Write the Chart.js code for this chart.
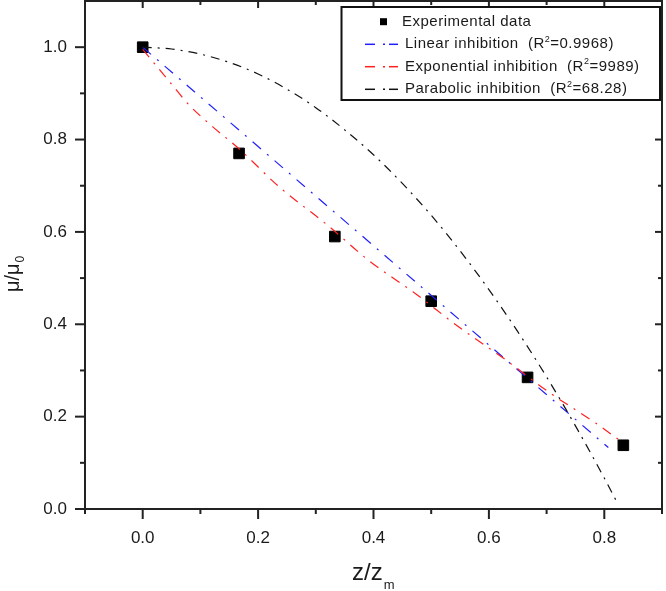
<!DOCTYPE html>
<html>
<head>
<meta charset="utf-8">
<script src="https://cdn.jsdelivr.net/npm/chart.js@4/dist/chart.umd.min.js"></script>
<style>
    html, body { margin: 0; padding: 0; background: #fff; }
    #inhibitionChart { display: block; }
</style>
</head>
<body>
<canvas id="inhibitionChart" width="666" height="591"></canvas>
<script>
// Experimental points (z/zm, mu/mu0)
const zExp = [0, 0.167, 0.333, 0.5, 0.667, 0.833];
const muExp = [1.0, 0.77, 0.59, 0.45, 0.285, 0.138];

// Linear inhibition fit
const zLinear = [0, 0.2, 0.4, 0.6, 0.807];
const muLinear = [1.0, 0.785, 0.570, 0.355, 0.133];

// Exponential inhibition fit
const zExpo = [0, 0.046, 0.081, 0.121, 0.167, 0.237, 0.317, 0.392, 0.473, 0.548, 0.629, 0.704, 0.785, 0.833];
const muExpo = [0.995, 0.926, 0.874, 0.828, 0.780, 0.697, 0.618, 0.538, 0.466, 0.394, 0.323, 0.253, 0.186, 0.143];

// Parabolic inhibition fit
const zParab = [0, 0.05, 0.1, 0.15, 0.2, 0.25, 0.3, 0.35, 0.4, 0.45, 0.5, 0.55, 0.6, 0.65, 0.7, 0.75, 0.8, 0.821];
const muParab = [1.0, 0.996, 0.985, 0.967, 0.942, 0.909, 0.869, 0.821, 0.767, 0.705, 0.636, 0.559, 0.475, 0.384, 0.286, 0.180, 0.067, 0.017];

// Axis ticks
const xTicks = [0, 0.2, 0.4, 0.6, 0.8];
const xMinor = [-0.1, 0.1, 0.3, 0.5, 0.7, 0.9];
const yTicks = [0, 0.2, 0.4, 0.6, 0.8, 1.0];
const yMinor = [0.1, 0.3, 0.5, 0.7, 0.9];

const seriesNames = ["Experimental data", "Linear inhibition", "Exponential inhibition", "Parabolic inhibition"];
const r2Values = ["", "0.9968", "9989", "68.28"];
const seriesColors = ["#000000", "#1f1fff", "#ff2020", "#111111"];

const FONT = "'Liberation Sans', Arial, sans-serif";
const INK = "#1a1a1a";

const toPoints = (xs, ys) => xs.map((x, i) => ({ x: x, y: ys[i] }));

// no automatic label overflow padding, the frame is placed by hand
const noPadding = scale => {
    scale.paddingTop = 0;
    scale.paddingBottom = 0;
    scale.paddingLeft = 0;
    scale.paddingRight = 0;
};

document.addEventListener("DOMContentLoaded", () => {
    const ctx = document.getElementById("inhibitionChart")?.getContext("2d");
    if (!ctx) return;

    // frame, tick marks, legend box and axis titles
    const decorations = {
        id: "decorations",
        afterDatasetsDraw(chart) {
            const { ctx, chartArea: a, scales: { x, y } } = chart;
            ctx.save();

            // frame
            ctx.strokeStyle = "#222";
            ctx.lineWidth = 2;
            ctx.setLineDash([]);
            ctx.strokeRect(a.left, a.top, a.right - a.left, a.bottom - a.top);

            // tick marks
            const tick = (x1, y1, x2, y2) => {
                ctx.beginPath();
                ctx.moveTo(x1, y1);
                ctx.lineTo(x2, y2);
                ctx.stroke();
            };
            xTicks.forEach(v => {
                const px = x.getPixelForValue(v);
                tick(px, a.bottom, px, a.bottom + 10);
                tick(px, a.top, px, a.top + 7);
            });
            xMinor.forEach(v => {
                const px = x.getPixelForValue(v);
                tick(px, a.bottom, px, a.bottom + 5);
                tick(px, a.top, px, a.top + 4);
            });
            yTicks.forEach(v => {
                const py = y.getPixelForValue(v);
                tick(a.left - 10, py, a.left, py);
                tick(a.right - 7, py, a.right, py);
            });
            yMinor.forEach(v => {
                const py = y.getPixelForValue(v);
                tick(a.left - 5, py, a.left, py);
                tick(a.right - 4, py, a.right, py);
            });

            // legend
            const box = { left: 341.5, top: 7, right: 660, bottom: 100 };
            ctx.fillStyle = "#fff";
            ctx.fillRect(box.left, box.top, box.right - box.left, box.bottom - box.top);
            ctx.strokeStyle = "#111";
            ctx.lineWidth = 2;
            ctx.strokeRect(box.left, box.top, box.right - box.left, box.bottom - box.top);

            const rowY = [21.7, 44.3, 66.7, 89.3];
            ctx.textBaseline = "middle";
            ctx.textAlign = "left";
            if ("letterSpacing" in ctx) ctx.letterSpacing = "0.5px";

            seriesNames.forEach((name, i) => {
                const ry = rowY[i];
                if (i === 0) {
                    ctx.fillStyle = "#000";
                    ctx.fillRect(380, ry - 3.5, 7, 7);
                    ctx.font = "15px " + FONT;
                    ctx.fillStyle = INK;
                    ctx.fillText(name, 402, ry);
                    return;
                }
                ctx.strokeStyle = seriesColors[i];
                ctx.lineWidth = 1.5;
                tick(365, ry, 375, ry);
                tick(383, ry, 385, ry);
                tick(389, ry, 398, ry);

                ctx.fillStyle = INK;
                ctx.font = "15px " + FONT;
                const head = name + "  (R";
                ctx.fillText(head, 405, ry);
                let tx = 405 + ctx.measureText(head).width;
                ctx.font = "9px " + FONT;
                ctx.fillText("2", tx, ry - 5);
                tx += ctx.measureText("2").width;
                ctx.font = "15px " + FONT;
                ctx.fillText("=" + r2Values[i] + ")", tx, ry);
            });
            if ("letterSpacing" in ctx) ctx.letterSpacing = "0px";

            // x title: z/z_m
            ctx.fillStyle = INK;
            ctx.textBaseline = "alphabetic";
            ctx.font = "24px " + FONT;
            ctx.fillText("z/z", 352, 580);
            const xw = ctx.measureText("z/z").width;
            ctx.font = "13px " + FONT;
            ctx.fillText("m", 352 + xw + 1, 589);

            // y title: mu/mu_0
            ctx.translate(19, 292);
            ctx.rotate(-Math.PI / 2);
            ctx.font = "20px " + FONT;
            ctx.fillText("\u03bc/\u03bc", 0, 0);
            const yw = ctx.measureText("\u03bc/\u03bc").width;
            ctx.font = "12px " + FONT;
            ctx.fillText("0", yw + 1, 5);

            ctx.restore();
        }
    };

    new Chart(ctx, {
        type: "scatter",
        data: {
            datasets: [
                {
                    label: seriesNames[0],
                    data: toPoints(zExp, muExp),
                    pointStyle: "rect",
                    pointRadius: 7.5,
                    pointBackgroundColor: "#000",
                    pointBorderColor: "#000",
                    pointBorderWidth: 1,
                    showLine: false,
                    order: 5
                },
                {
                    label: seriesNames[1],
                    data: toPoints(zLinear, muLinear),
                    showLine: true,
                    borderColor: seriesColors[1],
                    borderWidth: 1.2,
                    borderDash: [11, 8, 2, 8],
                    pointRadius: 0,
                    order: 3
                },
                {
                    label: seriesNames[2],
                    data: toPoints(zExpo, muExpo),
                    showLine: true,
                    borderColor: seriesColors[2],
                    borderWidth: 1.2,
                    borderDash: [10, 7, 2, 7],
                    cubicInterpolationMode: "monotone",
                    pointRadius: 0,
                    order: 2
                },
                {
                    label: seriesNames[3],
                    data: toPoints(zParab, muParab),
                    showLine: true,
                    borderColor: seriesColors[3],
                    borderWidth: 1.2,
                    borderDash: [9, 6, 2, 6],
                    cubicInterpolationMode: "monotone",
                    pointRadius: 0,
                    order: 1
                }
            ]
        },
        options: {
            responsive: false,
            animation: false,
            devicePixelRatio: 1,
            layout: { autoPadding: false, padding: { top: 1, right: 4, left: 0, bottom: 0 } },
            plugins: {
                legend: { display: false },
                tooltip: { enabled: false }
            },
            scales: {
                x: {
                    type: "linear",
                    min: -0.1,
                    max: 0.9,
                    grid: { display: false, drawTicks: false },
                    border: { display: false },
                    afterBuildTicks: scale => { scale.ticks = xTicks.map(v => ({ value: v })); },
                    afterFit: scale => { scale.height = 82; noPadding(scale); },
                    ticks: {
                        padding: 19,
                        color: INK,
                        font: { family: FONT, size: 17 },
                        callback: v => Number(v).toFixed(1)
                    }
                },
                y: {
                    type: "linear",
                    min: 0,
                    max: 1.1,
                    grid: { display: false, drawTicks: false },
                    border: { display: false },
                    afterBuildTicks: scale => { scale.ticks = yTicks.map(v => ({ value: v })); },
                    afterFit: scale => { scale.width = 85; noPadding(scale); },
                    ticks: {
                        padding: 18,
                        color: INK,
                        font: { family: FONT, size: 17 },
                        callback: v => Number(v).toFixed(1)
                    }
                }
            }
        },
        plugins: [decorations]
    });
});
</script>
</body>
</html>
